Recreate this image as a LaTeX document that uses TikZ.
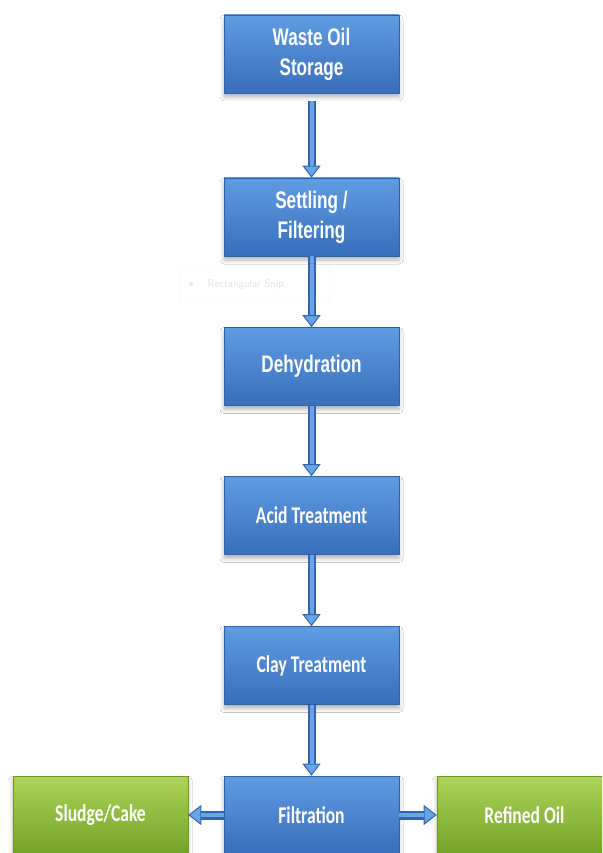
\documentclass[tikz,border=0pt]{standalone}
\usepackage{fontspec}
\newfontfamily\narrowsans[FakeStretch=0.715]{Liberation Sans}
\newfontfamily\calibsans[FakeStretch=0.73]{Carlito}
\usetikzlibrary{arrows.meta,shadows.blur}

\definecolor{bluetop}{RGB}{96,156,226}
\definecolor{bluemid}{RGB}{74,134,206}
\definecolor{bluebot}{RGB}{56,110,186}
\definecolor{blueedge}{RGB}{48,98,170}
\definecolor{greentop}{RGB}{172,212,88}
\definecolor{greenmid}{RGB}{142,190,60}
\definecolor{greenbot}{RGB}{116,162,40}
\definecolor{greenedge}{RGB}{106,150,36}
\definecolor{arrowedge}{RGB}{50,100,175}
\definecolor{arrowin}{RGB}{104,164,232}
\definecolor{snipgray}{RGB}{228,228,228}

\begin{document}
\begin{tikzpicture}[x=1pt,y=-1pt,
  basebox/.style={rectangle, minimum width=175pt, minimum height=78pt,
    inner sep=0pt, line width=0.6pt, text=white, align=center,
    blur shadow={shadow xshift=0pt, shadow yshift=-4pt,
      shadow blur radius=4pt, shadow opacity=30}},
  procbox/.style={basebox, top color=bluetop, middle color=bluemid,
    bottom color=bluebot, draw=blueedge,
    font=\narrowsans\bfseries\fontsize{24}{30}\selectfont},
  calibbox/.style={procbox, font=\calibsans\bfseries\fontsize{24}{29}\selectfont},
  prodbox/.style={basebox, top color=greentop, middle color=greenmid,
    bottom color=greenbot, draw=greenedge,
    font=\calibsans\bfseries\fontsize{24}{29}\selectfont},
  flow/.style={line width=8pt, draw=arrowedge,
    -{Triangle[width=18pt,length=12pt,line width=1pt,fill=arrowin]},
    postaction={draw=arrowin, line width=4pt, -, shorten >=12pt}},
  flowh/.style={line width=9pt, draw=arrowedge,
    -{Triangle[width=20pt,length=13pt,line width=1pt,fill=arrowin]},
    postaction={draw=arrowin, line width=4.5pt, -, shorten >=13pt}}
]
\useasboundingbox (0,0) rectangle (602,853);
\clip (0,0) rectangle (602,853);
\fill[white] (0,0) rectangle (602,853);

% faint snipping-tool label behind the flow
\node[draw=snipgray!50, fill=white, rounded corners=2pt, minimum width=150pt,
  minimum height=36pt, text=snipgray, anchor=west, inner xsep=7pt,
  text width=136pt, align=left, font=\sffamily\fontsize{11}{12}\selectfont]
  (snip) at (180,285) {\textbullet\hspace{12pt}Rectangular Snip};

% process chain
\node[procbox] (store) at (311.5,54) {Waste Oil\\Storage};
\node[procbox] (settle) at (311.5,217) {Settling /\\Filtering};
\node[procbox] (dehyd) at (311.5,366.5) {Dehydration};
\node[calibbox] (acid) at (311.5,515.5) {Acid Treatment};
\node[calibbox] (clay) at (311.5,665.5) {Clay Treatment};
\node[calibbox] (filt) at (311.5,815) {Filtration};

% products
\node[prodbox] (sludge) at (100.5,815) {Sludge/Cake};
\node[prodbox] (refined) at (524.5,815) {Refined Oil};

% connectors
\draw[flow] ([yshift=-8pt]store.south) -- (settle.north);
\draw[flow] (settle.south) -- (dehyd.north);
\draw[flow] (dehyd.south) -- (acid.north);
\draw[flow] (acid.south) -- (clay.north);
\draw[flow] (clay.south) -- (filt.north);
\draw[flowh] (filt.west) -- (sludge.east);
\draw[flowh] (filt.east) -- (refined.west);
\end{tikzpicture}
\end{document}
